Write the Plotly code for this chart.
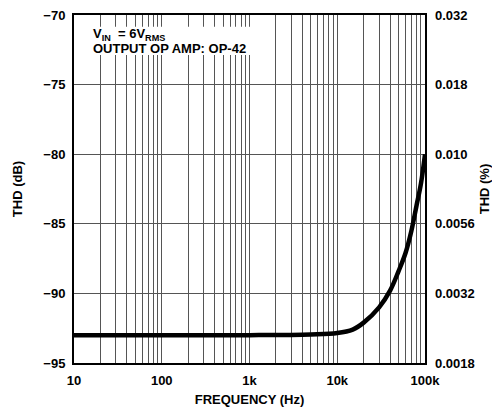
import plotly.graph_objects as go

freq_hz = [10, 100, 1000, 5000, 10000, 15000, 20000, 30000, 40000, 50000, 60000, 70000, 80000, 90000, 100000]
thd_db = [-93.0, -93.0, -93.0, -92.95, -92.85, -92.6, -92.1, -91.0, -89.8, -88.4, -87.1, -85.5, -83.7, -82.1, -80.0]

db_ticks = [-95, -90, -85, -80, -75, -70]
pct_labels = ["0.0018", "0.0032", "0.0056", "0.010", "0.018", "0.032"]
decade_labels = {10: "10", 100: "100", 1000: "1k", 10000: "10k", 100000: "100k"}

xvals, xtext = [], []
for k in range(1, 6):
    for d in range(1, 10):
        v = d * 10 ** k
        if v > 100000:
            break
        xvals.append(v)
        xtext.append(decade_labels.get(v, ""))

font = dict(family="Liberation Sans, Arial, sans-serif", size=13, color="black", weight="bold")

fig = go.Figure()
fig.add_trace(go.Scatter(x=freq_hz, y=thd_db, mode="lines",
                         line=dict(color="black", width=4.5, shape="spline"),
                         showlegend=False, hoverinfo="skip"))
fig.add_trace(go.Scatter(x=freq_hz, y=thd_db, mode="lines", yaxis="y2",
                         line=dict(width=0), opacity=0, showlegend=False, hoverinfo="skip"))

fig.update_layout(
    width=484, height=399,
    margin=dict(l=66, r=67, t=7, b=44),
    paper_bgcolor="white", plot_bgcolor="white",
    font=font,
    xaxis=dict(type="log", range=[1, 5], tickvals=xvals, ticktext=xtext,
               showgrid=True, gridcolor="#555", gridwidth=0.8,
               showline=True, linecolor="black", linewidth=2, mirror=True,
               ticks="", tickfont=font, zeroline=False, automargin=False,
               ticklabelstandoff=4, ticklabeloverflow="allow",
               title=dict(text="FREQUENCY (Hz)", font=font, standoff=14)),
    yaxis=dict(range=[-95, -70], tickvals=db_ticks,
               showgrid=True, gridcolor="#555", gridwidth=0.8,
               showline=True, linecolor="black", linewidth=2, mirror=True,
               ticks="", tickfont=font, zeroline=False, automargin=False,
               ticklabelstandoff=4, ticklabeloverflow="allow",
               title=dict(text="THD (dB)", font=font, standoff=18)),
    yaxis2=dict(range=[-95, -70], tickvals=db_ticks, ticktext=pct_labels,
                overlaying="y", side="right", showgrid=False, ticks="",
                tickfont=font, zeroline=False, automargin=False,
                ticklabelstandoff=9, ticklabeloverflow="allow",
                title=dict(text="THD (%)", font=font, standoff=9)),
    shapes=[dict(type="rect", xref="paper", yref="paper", x0=0.04, x1=0.507,
                 y0=0.885, y1=0.966, fillcolor="white", line=dict(width=0), layer="above")],
    annotations=[
        dict(text="V<sub>IN</sub>  = 6V<sub>RMS</sub>",
             xref="paper", yref="paper", x=0.048, y=0.945, xanchor="left", yanchor="middle",
             showarrow=False, align="left", font=font),
        dict(text="OUTPUT OP AMP: OP-42",
             xref="paper", yref="paper", x=0.048, y=0.905, xanchor="left", yanchor="middle",
             showarrow=False, align="left", font=font),
    ],
)

fig.write_html("out.html")
